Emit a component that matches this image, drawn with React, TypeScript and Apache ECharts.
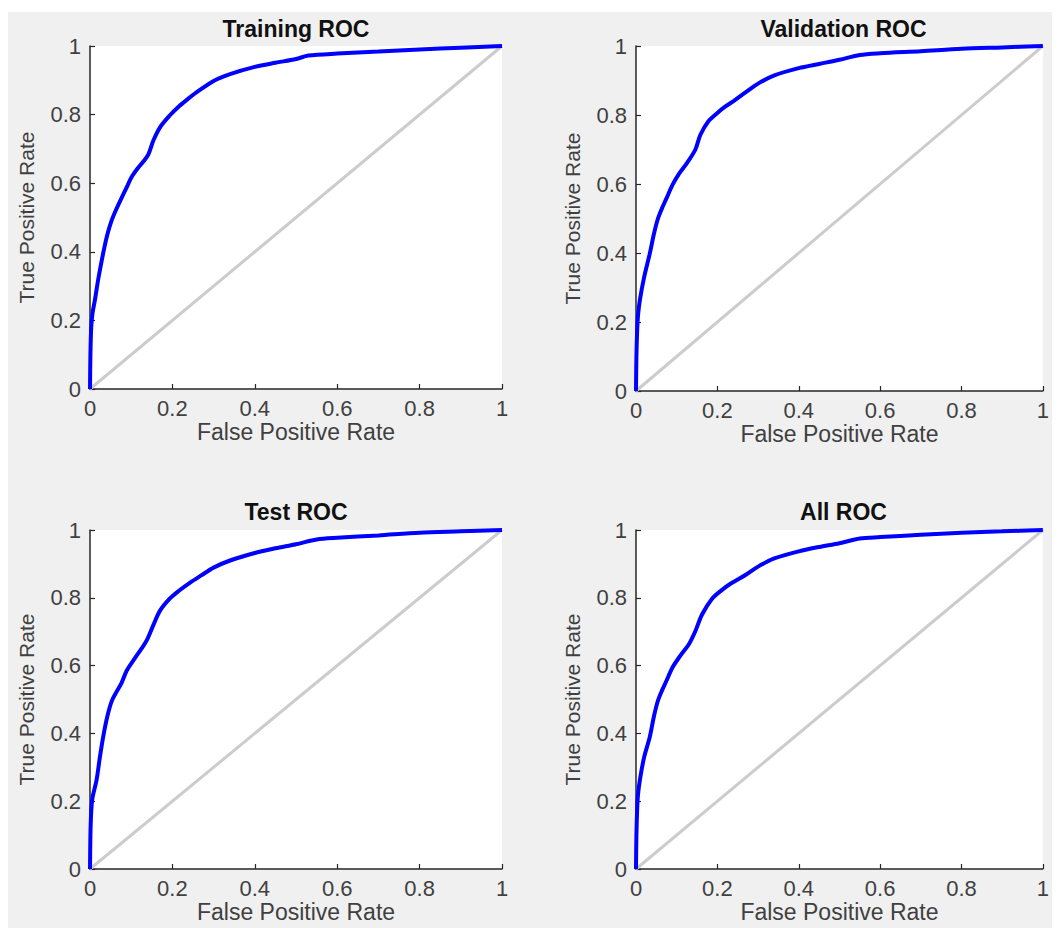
import React, { useEffect, useRef } from "react";
import * as echarts from "echarts";

const panelTitles = ["Training ROC", "Validation ROC", "Test ROC", "All ROC"];
const xAxisName = "False Positive Rate";
const yAxisName = "True Positive Rate";

const trainFpr = [0, 0.001, 0.003, 0.006, 0.012, 0.02, 0.032, 0.042, 0.053, 0.063, 0.073, 0.089, 0.101, 0.115, 0.13, 0.142, 0.154, 0.17, 0.194, 0.215, 0.235, 0.26, 0.3, 0.34, 0.4, 0.45, 0.5, 0.53, 0.6, 0.7, 0.8, 0.9, 1];
const trainTpr = [0, 0.1, 0.18, 0.22, 0.26, 0.32, 0.396, 0.45, 0.493, 0.522, 0.548, 0.588, 0.618, 0.642, 0.664, 0.685, 0.725, 0.763, 0.798, 0.823, 0.843, 0.866, 0.898, 0.918, 0.939, 0.951, 0.962, 0.972, 0.978, 0.984, 0.99, 0.995, 1];

const valFpr = [0, 0.001, 0.003, 0.005, 0.0096, 0.02, 0.034, 0.044, 0.054, 0.064, 0.074, 0.09, 0.106, 0.126, 0.146, 0.158, 0.178, 0.2, 0.219, 0.243, 0.27, 0.3, 0.34, 0.4, 0.45, 0.5, 0.55, 0.6, 0.7, 0.8, 0.9, 1];
const valTpr = [0, 0.1, 0.18, 0.22, 0.264, 0.33, 0.399, 0.455, 0.5, 0.53, 0.556, 0.598, 0.63, 0.662, 0.7, 0.742, 0.782, 0.806, 0.824, 0.843, 0.866, 0.891, 0.915, 0.936, 0.948, 0.96, 0.974, 0.979, 0.985, 0.992, 0.996, 1];

const testFpr = [0, 0.001, 0.003, 0.006, 0.016, 0.024, 0.032, 0.042, 0.053, 0.065, 0.077, 0.089, 0.109, 0.125, 0.138, 0.154, 0.17, 0.194, 0.215, 0.243, 0.27, 0.3, 0.34, 0.4, 0.45, 0.5, 0.55, 0.6, 0.7, 0.8, 0.9, 1];
const testTpr = [0, 0.1, 0.17, 0.21, 0.263, 0.33, 0.39, 0.45, 0.496, 0.524, 0.55, 0.585, 0.622, 0.65, 0.675, 0.72, 0.762, 0.798, 0.82, 0.845, 0.866, 0.889, 0.91, 0.932, 0.946, 0.958, 0.972, 0.977, 0.984, 0.992, 0.996, 1];

const allFpr = [0, 0.001, 0.003, 0.005, 0.0096, 0.02, 0.034, 0.044, 0.054, 0.064, 0.074, 0.09, 0.11, 0.13, 0.146, 0.162, 0.186, 0.21, 0.234, 0.27, 0.3, 0.34, 0.4, 0.45, 0.5, 0.55, 0.6, 0.7, 0.8, 0.9, 1];
const allTpr = [0, 0.1, 0.18, 0.22, 0.263, 0.33, 0.39, 0.45, 0.497, 0.527, 0.553, 0.595, 0.631, 0.663, 0.702, 0.75, 0.796, 0.822, 0.843, 0.868, 0.892, 0.916, 0.937, 0.95, 0.961, 0.975, 0.979, 0.986, 0.992, 0.996, 1];

const diagFpr = [0, 1];
const diagTpr = [0, 1];

const curves = [
  [trainFpr, trainTpr],
  [valFpr, valTpr],
  [testFpr, testTpr],
  [allFpr, allTpr],
];

const FONT = "'Liberation Sans', Arial, sans-serif";

export default function App() {
  const ref = useRef<HTMLDivElement>(null);
  useEffect(() => {
    if (!ref.current) return;
    const chart = echarts.init(ref.current, null, { renderer: "svg" });
    const grids = [
      { left: 82, top: 34, width: 412, height: 343 },
      { left: 628, top: 34, width: 415, height: 345 },
      { left: 82, top: 518, width: 412, height: 339 },
      { left: 628, top: 518, width: 415, height: 339 },
    ];
    const fmt = (v: number) => String(+v.toFixed(1));
    const axisCommon = {
      type: "value",
      min: 0,
      max: 1,
      interval: 0.2,
      splitLine: { show: false },
      axisLine: { show: true, onZero: false, lineStyle: { color: "#262626", width: 1.5 } },
      axisTick: { show: true, inside: true, length: 5, lineStyle: { color: "#262626", width: 1.2 } },
      nameLocation: "middle",
    };
    const option: any = {
      animation: false,
      backgroundColor: "#f0f0f0",
      title: grids.map((g, i) => ({
        text: panelTitles[i],
        left: g.left + g.width / 2,
        top: i < 2 ? 5 : 488,
        textAlign: "center",
        padding: 0,
        textStyle: { fontFamily: FONT, fontSize: 23, fontWeight: "bold", color: "#111" },
      })),
      grid: grids.map((g) => ({ ...g, show: true, backgroundColor: "#ffffff", borderWidth: 0 })),
      xAxis: grids.map((_, i) => ({
        ...axisCommon,
        gridIndex: i,
        name: xAxisName,
        nameGap: 31,
        nameTextStyle: { fontFamily: FONT, fontSize: 23, color: "#404040" },
        axisLabel: { fontFamily: FONT, fontSize: 22, color: "#404040", margin: 8, formatter: fmt, showMaxLabel: true, showMinLabel: true },
      })),
      yAxis: grids.map((_, i) => ({
        ...axisCommon,
        gridIndex: i,
        name: yAxisName,
        nameGap: 53,
        nameTextStyle: { fontFamily: FONT, fontSize: 21, color: "#404040" },
        axisLabel: { fontFamily: FONT, fontSize: 22, color: "#404040", margin: 9, formatter: fmt },
      })),
      series: [
        ...grids.map((_, i) => ({
          type: "line",
          xAxisIndex: i,
          yAxisIndex: i,
          data: diagFpr.map((x, k) => [x, diagTpr[k]]),
          showSymbol: false,
          lineStyle: { color: "#cccccc", width: 3 },
          z: 1,
        })),
        ...curves.map(([fx, ty], i) => ({
          type: "line",
          xAxisIndex: i,
          yAxisIndex: i,
          data: fx.map((x, k) => [x, ty[k]]),
          showSymbol: false,
          smooth: 0.3,
          lineStyle: { color: "#0000ff", width: 4 },
          z: 3,
        })),
      ],
    };
    chart.setOption(option);
    return () => chart.dispose();
  }, []);
  return (
    <div style={{ position: "absolute", left: 0, top: 0, width: 1056, height: 931, background: "#ffffff" }}>
      <div ref={ref} style={{ position: "absolute", left: 8, top: 12, width: 1044, height: 916 }} />
    </div>
  );
}
